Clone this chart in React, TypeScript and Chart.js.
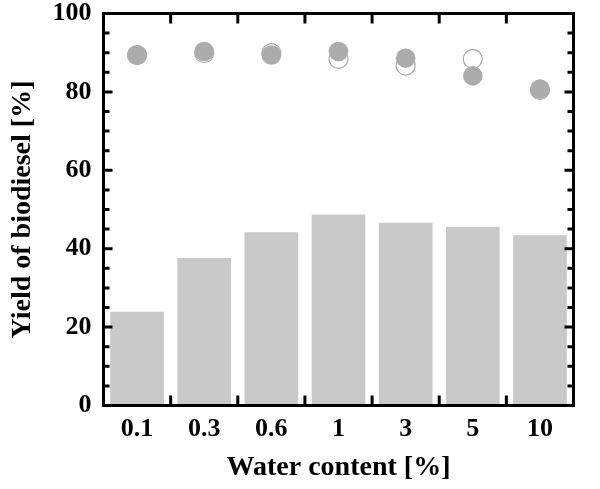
import React, { useEffect, useRef } from "react";
import { Chart, registerables } from "chart.js";

Chart.register(...registerables);

const categories = ["0.1", "0.3", "0.6", "1", "3", "5", "10"];
const barValues = [23.9, 37.6, 44.2, 48.7, 46.6, 45.6, 43.4];
const openValues = [89.4, 89.9, 89.9, 88.4, 86.7, 88.4, 80.5];
const filledValues = [89.4, 90.3, 89.4, 90.3, 88.6, 84.1, 80.7];
const yTickValues = [0, 20, 40, 60, 80, 100];

const FONT = "'Liberation Serif', 'Times New Roman', serif";

const framePlugin = {
  id: "frame",
  afterDatasetsDraw(chart: any) {
    const { ctx, chartArea } = chart;
    const { left, right, top, bottom } = chartArea;
    const xs = chart.scales.x;
    const ys = chart.scales.y;
    ctx.save();
    ctx.strokeStyle = "#000";
    ctx.lineWidth = 3;
    ctx.lineCap = "butt";
    ctx.beginPath();
    for (let v = 0; v <= 100; v += 5) {
      const y = ys.getPixelForValue(v);
      const len = v % 20 === 0 ? 9 : 6;
      ctx.moveTo(left, y);
      ctx.lineTo(left + len, y);
      ctx.moveTo(right, y);
      ctx.lineTo(right - len, y);
    }
    for (let i = 0; i < categories.length - 1; i++) {
      const x = (xs.getPixelForTick(i) + xs.getPixelForTick(i + 1)) / 2;
      ctx.moveTo(x, bottom);
      ctx.lineTo(x, bottom - 10);
      ctx.moveTo(x, top);
      ctx.lineTo(x, top + 10);
    }
    ctx.stroke();
    ctx.strokeRect(left, top, right - left, bottom - top);
    ctx.restore();
  },
};

export default function App() {
  const ref = useRef<HTMLCanvasElement | null>(null);
  useEffect(() => {
    if (!ref.current) return;
    const chart = new Chart(ref.current, {
      type: "bar",
      data: {
        labels: categories,
        datasets: [
          {
            type: "bar",
            data: barValues,
            backgroundColor: "#c9c9c9",
            borderWidth: 0,
            categoryPercentage: 1,
            barPercentage: 0.8,
            order: 3,
          } as any,
          {
            type: "line",
            data: openValues,
            showLine: false,
            pointRadius: 9.5,
            pointBackgroundColor: "rgba(255,255,255,0)",
            pointBorderColor: "#a9a9a9",
            pointBorderWidth: 1.2,
            order: 2,
          } as any,
          {
            type: "line",
            data: filledValues,
            showLine: false,
            pointRadius: 9.8,
            pointBackgroundColor: "#acacac",
            pointBorderColor: "#acacac",
            pointBorderWidth: 0,
            order: 1,
          } as any,
        ],
      },
      options: {
        animation: false,
        responsive: true,
        maintainAspectRatio: false,
        layout: { padding: { top: 13.5, right: 26.5, left: 0, bottom: 0 } },
        plugins: { legend: { display: false }, tooltip: { enabled: false } },
        scales: {
          x: {
            type: "category",
            grid: { display: false, drawTicks: false },
            border: { display: false },
            ticks: {
              color: "#000",
              padding: 8,
              font: { family: FONT, size: 26, weight: "bold", lineHeight: 1.2 },
              maxRotation: 0,
            },
            title: {
              display: true,
              text: "Water content [%]",
              color: "#000",
              font: { family: FONT, size: 28, weight: "bold", lineHeight: 1.2 },
              padding: { top: 0, bottom: 4.2 },
            },
            afterFit(scale: any) {
              scale.height = 83.5;
              scale.paddingLeft = 0;
              scale.paddingRight = 0;
            },
          },
          y: {
            min: 0,
            max: 100,
            afterBuildTicks(scale: any) {
              scale.ticks = yTickValues.map((v) => ({ value: v }));
            },
            grid: { display: false, drawTicks: false },
            border: { display: false },
            ticks: {
              color: "#000",
              padding: 12,
              font: { family: FONT, size: 26, weight: "bold", lineHeight: 1.2 },
            },
            title: {
              display: true,
              text: "Yield of biodiesel [%]",
              color: "#000",
              font: { family: FONT, size: 28, weight: "bold", lineHeight: 1.2 },
              padding: { top: 6.2, bottom: 0 },
            },
            afterFit(scale: any) {
              scale.width = 103.5;
              scale.paddingTop = 0;
              scale.paddingBottom = 0;
            },
          },
        },
      },
      plugins: [framePlugin],
    });
    return () => chart.destroy();
  }, []);
  return (
    <div style={{ position: "absolute", left: 0, top: 0, width: 600, height: 489, background: "#fff" }}>
      <canvas ref={ref} />
    </div>
  );
}
